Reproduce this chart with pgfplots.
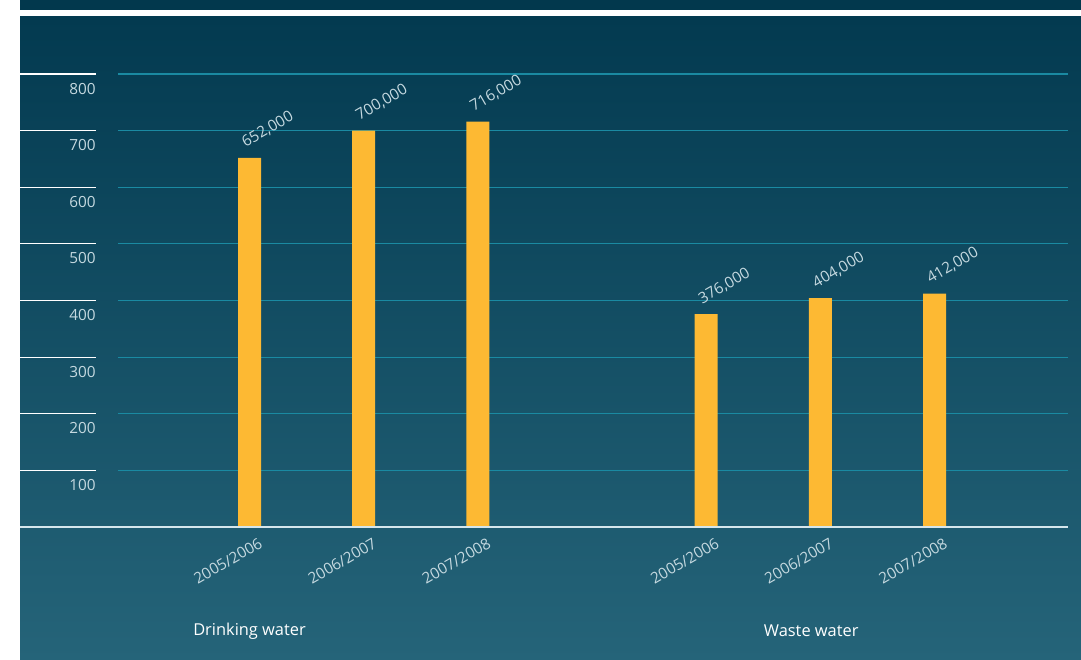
\documentclass[border=0pt]{standalone}
\usepackage{pgfplots}
\pgfplotsset{compat=1.18}
\usepackage{fontspec}
\setmainfont{Open Sans}
\definecolor{bgtop}{HTML}{033A50}
\definecolor{bgmid}{HTML}{034B61}
\definecolor{bgbot}{HTML}{256479}
\definecolor{band}{HTML}{02384D}
\definecolor{gridc}{HTML}{1A8AA2}
\definecolor{barc}{HTML}{FDB933}
\definecolor{lbl}{HTML}{C5D9E0}
\definecolor{basec}{HTML}{D5E6EC}
\begin{document}
\begin{tikzpicture}
\fill[white] (0,0) rectangle (810.75pt,495pt);
\shade[top color=bgtop, middle color=bgmid, bottom color=bgbot] (15pt,0pt) rectangle (810.75pt,482.25pt);
\fill[band] (15pt,487.5pt) rectangle (810.75pt,495pt);
\begin{axis}[
  at={(88.5pt,99.75pt)}, anchor=south west,
  scale only axis, width=712.5pt, height=339.75pt,
  xmin=-1.152, xmax=7.169, ymin=0, ymax=800,
  axis line style={draw=none},
  tick style={draw=none},
  clip=false,
  ybar, bar width=17.25pt,
  ytick={100,200,...,800},
  xmajorgrids=false,
  ymajorgrids=true,
  major grid style={draw=gridc, line width=0.9pt},
  major tick length=0pt,
  xtick={0,1,2,4,5,6},
  xticklabels={2005/2006,2006/2007,2007/2008,2005/2006,2006/2007,2007/2008},
  tick label style={font=\fontsize{11.5}{13}\selectfont, text=lbl},
  yticklabel style={anchor=east, inner sep=0pt, xshift=-16.5pt, yshift=-10.9pt},
  xticklabel style={rotate=30, anchor=north east, inner sep=0pt, xshift=1.9pt, yshift=-9.5pt},
  /pgf/number format/assume math mode=true,
  nodes near coords,
  point meta=explicit symbolic,
  every node near coord/.append style={rotate=30, anchor=base west, inner sep=0pt, xshift=1pt, yshift=8pt, font=\fontsize{11.5}{13}\selectfont, text=lbl},
]
\addplot[fill=barc, draw=none] table[meta=label] {
x y label
0 652 652,000
1 700 700,000
2 716 716,000
4 376 376,000
5 404 404,000
6 412 412,000
};
\pgfplotsinvokeforeach{100,200,...,800}{
  \draw[white, line width=0.9pt] (axis cs:-2.010,#1) -- (axis cs:-1.344,#1);
}
\draw[basec, line width=1pt] (axis cs:-2.010,0) -- (axis cs:7.169,0);
\node[white, font=\fontsize{12.3}{14}\selectfont] at (axis cs:0,-184) {Drinking water};
\node[white, font=\fontsize{12.3}{14}\selectfont] at (axis cs:4.92,-184) {Waste water};
\end{axis}
\end{tikzpicture}
\end{document}
